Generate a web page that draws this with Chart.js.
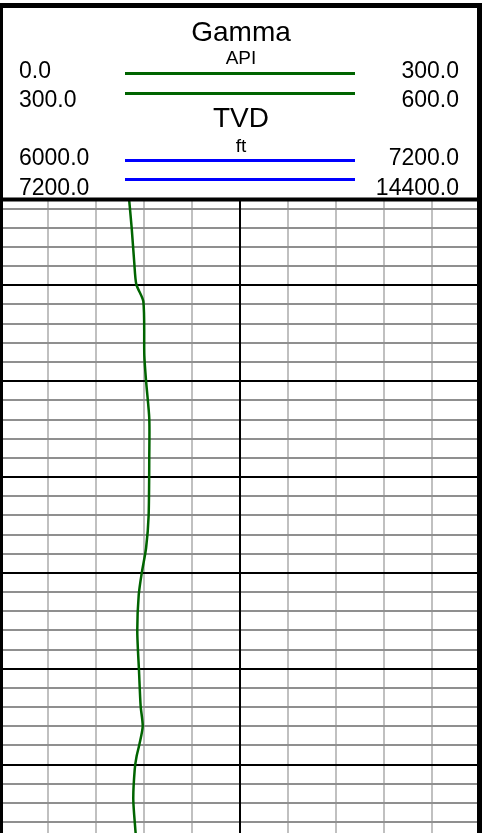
<!DOCTYPE html>
<html>
<head>
<meta charset="utf-8">
<script src="https://cdn.jsdelivr.net/npm/chart.js@4.4.1/dist/chart.umd.min.js"></script>
<style>
    html, body { margin: 0; padding: 0; background: #fff; }
    #wrap { position: relative; width: 482px; height: 833px; overflow: hidden;
            font-family: "Liberation Sans", Arial, sans-serif; color: #000; }
    #logCanvas { position: absolute; left: 0; top: 0; }
    .t { position: absolute; line-height: 1; white-space: nowrap; }
    .big { font-size: 28px; left: 0; width: 482px; text-align: center; }
    .unit { font-size: 19px; left: 0; width: 482px; text-align: center; }
    .num { font-size: 23px; }
    .l { left: 19px; }
    .r { right: 23px; text-align: right; }
    .swatch { position: absolute; left: 125px; width: 230px; height: 3px; }
</style>
</head>
<body>
<div id="wrap">
    <canvas id="logCanvas" width="482" height="833"></canvas>

    <!-- cabecera del track -->
    <div class="t big" style="top:18px">Gamma</div>
    <div class="t unit" style="top:47.9px">API</div>
    <div class="t num l" style="top:58.5px">0.0</div>
    <div class="t num r" style="top:58.5px">300.0</div>
    <div class="swatch" style="top:72px;background:#006400"></div>
    <div class="t num l" style="top:87.5px">300.0</div>
    <div class="t num r" style="top:87.5px">600.0</div>
    <div class="swatch" style="top:92px;background:#006400"></div>

    <div class="t big" style="top:104.3px">TVD</div>
    <div class="t unit" style="top:135.6px">ft</div>
    <div class="t num l" style="top:146.2px">6000.0</div>
    <div class="t num r" style="top:146.2px">7200.0</div>
    <div class="swatch" style="top:159px;background:#0000ff"></div>
    <div class="t num l" style="top:175.5px">7200.0</div>
    <div class="t num r" style="top:175.5px">14400.0</div>
    <div class="swatch" style="top:178px;background:#0000ff"></div>
</div>

<script>
// --- DATOS DEL REGISTRO ---
// Profundidad (ft) y lectura de Gamma (API)
const depthFt = [6005, 6040, 6076, 6099, 6117, 6173, 6200, 6239, 6277, 6340, 6374, 6400,
                 6423, 6461, 6503, 6539, 6560, 6579, 6591, 6605, 6636, 6668, 6680];
const gammaApi = [80.4, 82.3, 83.9, 85.2, 89.6, 90.2, 91.3, 93.3, 93.3, 92.9, 91.3, 88.6,
                  86.7, 85.8, 86.9, 87.9, 89.2, 87.1, 85.4, 84.2, 83.3, 84.6, 85.2];

// Escalas del track
const gammaMin = 0;
const gammaMax = 300;
const gammaStep = 30;
const gammaMid = 150;
const depthTop = 6011;
const depthBase = 6671.3;
const depthMinor = 20;
const depthMajor = 100;

// --- MARCO DEL TRACK ---
const framePlugin = {
    id: 'frame',
    beforeDatasetsDraw(chart) {
        // linea central negra por encima de la grilla horizontal
        const ctx = chart.ctx;
        const area = chart.chartArea;
        const x = Math.round(chart.scales.x.getPixelForValue(gammaMid));
        ctx.save();
        ctx.fillStyle = '#000';
        ctx.fillRect(x - 1, area.top, 2, area.bottom - area.top);
        ctx.restore();
    },
    afterDraw(chart) {
        const ctx = chart.ctx;
        ctx.save();
        ctx.fillStyle = '#000';
        ctx.fillRect(0, 3, 482, 5);        // borde superior
        ctx.fillRect(0, 3, 3, 830);        // borde izquierdo
        ctx.fillRect(477, 3, 5, 830);      // borde derecho
        ctx.fillRect(0, 197.5, 482, 4);    // separacion cabecera / grilla
        ctx.restore();
    }
};

const points = depthFt.map((d, i) => ({ x: gammaApi[i], y: d }));

const ctx = document.getElementById('logCanvas').getContext('2d');
new Chart(ctx, {
    type: 'scatter',
    data: {
        datasets: [{
            label: 'Gamma',
            data: points,
            showLine: true,
            borderColor: '#006400',
            borderWidth: 2.5,
            pointRadius: 0,
            tension: 0.25,
            fill: false
        }]
    },
    options: {
        responsive: false,
        animation: false,
        layout: { padding: { top: 200, left: 0, right: 2, bottom: 0 } },
        plugins: { legend: { display: false }, tooltip: { enabled: false } },
        scales: {
            x: {
                type: 'linear',
                position: 'top',
                min: gammaMin,
                max: gammaMax,
                ticks: { display: false, stepSize: gammaStep },
                border: { display: false },
                grid: {
                    drawTicks: false,
                    lineWidth: 2,
                    color: c => {
                        const v = c.tick.value;
                        if (v === gammaMin || v === gammaMax) return 'rgba(0,0,0,0)';
                        return v === gammaMid ? '#000' : '#c0c0c0';
                    }
                }
            },
            y: {
                type: 'linear',
                reverse: true,
                z: 1,
                min: depthTop,
                max: depthBase,
                ticks: { display: false },
                border: { display: false },
                // lineas cada 20 ft, las de 100 ft en negro
                afterBuildTicks: scale => {
                    const ticks = [];
                    for (let v = Math.ceil(depthTop / depthMinor) * depthMinor; v <= depthBase; v += depthMinor) {
                        ticks.push({ value: v });
                    }
                    scale.ticks = ticks;
                },
                grid: {
                    drawTicks: false,
                    lineWidth: 2,
                    color: c => (c.tick.value % depthMajor === 0 ? '#000' : '#8f8f8f')
                }
            }
        }
    },
    plugins: [framePlugin]
});
</script>
</body>
</html>
